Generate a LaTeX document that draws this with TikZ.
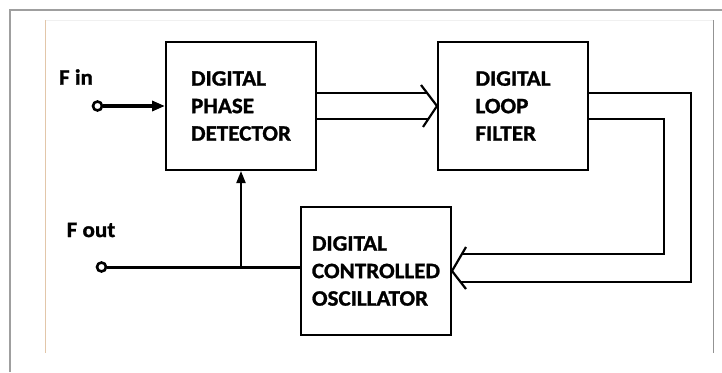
\documentclass[tikz,border=0pt]{standalone}
\usepackage{fontspec}
\setmainfont{Carlito}[FakeStretch=1.05, BoldFeatures={FakeBold=1.2}]
\usetikzlibrary{arrows.meta, positioning, calc}

\begin{document}
\begin{tikzpicture}[
    x=1pt, y=-1pt,
    % --- Node styles ---
    block/.style = {rectangle, draw=black, line width=2pt, minimum width=150pt,
        minimum height=128pt, align=left, inner sep=0pt,
        font=\fontsize{22}{27.5}\selectfont\bfseries},
    port/.style = {circle, draw=black, line width=2.6pt, fill=white,
        minimum size=9pt, inner sep=0pt},
    tag/.style = {font=\fontsize{22}{24}\selectfont\bfseries},
    % --- Connector styles ---
    signal/.style = {line width=2pt, draw=black},
    bus/.style = {line width=2.2pt, draw=black, line join=miter},
    tip/.style = {-{Triangle[length=12pt, width=9pt]}},
    frame/.style = {draw=gray!75, line width=1.5pt}
]
\useasboundingbox (0,0) rectangle (722,372);

% ==================== FRAME ====================
\draw[frame] (10,372) -- (10,10) -- (722,10);
\draw[draw=gray!12, line width=0.8pt] (45,20) -- (713,20);
\draw[draw=brown!45, line width=0.8pt] (45,20) -- (45,353);
\draw[draw=gray!85, line width=0.8pt] (713,20) -- (713,353);

% ==================== BLOCKS ====================
\node[block] (dpd) at (241,106) {DIGITAL\\PHASE\\DETECTOR};

\node[block, right=120pt of dpd] (dlf) {DIGITAL\\LOOP\\FILTER};

\node[block, below=35pt of dpd.south east, anchor=north west, xshift=-17pt] (dco)
    {DIGITAL\\CONTROLLED\\OSCILLATOR};

% ==================== PORTS ====================
\node[port] (fin) at (97.5,106) {};
\node[tag] (finlabel) at (76,77) {F in};

\node[port] (fout) at (101.5,267) {};
\node[tag] (foutlabel) at (91,230) {F out};

\coordinate (tap) at (dpd.south |- fout);

% ==================== ARROWS ====================
\draw[signal, line width=4pt, -{Triangle[length=13pt, width=10pt]}] (fin) -- (dpd);
\draw[signal, line width=3pt] (fout) -- (fout -| dco.west);
\draw[signal, tip] (tap) -- (dpd.south);

% Phase detector -> loop filter (bus)
\draw[bus] ([yshift=13pt]dpd.east) -- ([yshift=13pt, xshift=-10pt]dlf.west);
\draw[bus] ([yshift=-13pt]dpd.east) -- ([yshift=-13pt, xshift=-8pt]dlf.west);
\draw[bus] ([xshift=-16pt, yshift=21pt]dlf.west) -- (dlf.west)
    -- ([xshift=-14pt, yshift=-21pt]dlf.west);

% Loop filter -> oscillator (bus, back round the right side)
\draw[bus] ([yshift=13pt]dlf.east) -| ([xshift=239pt, yshift=-11pt]dco.east)
    -- ([xshift=9pt, yshift=-11pt]dco.east);
\draw[bus] ([yshift=-13pt]dlf.east) -| ([xshift=212pt, yshift=17pt]dco.east)
    -- ([xshift=10pt, yshift=17pt]dco.east);
\draw[bus] ([xshift=14pt, yshift=24pt]dco.east) -- (dco.east)
    -- ([xshift=14pt, yshift=-18pt]dco.east);

\end{tikzpicture}
\end{document}
